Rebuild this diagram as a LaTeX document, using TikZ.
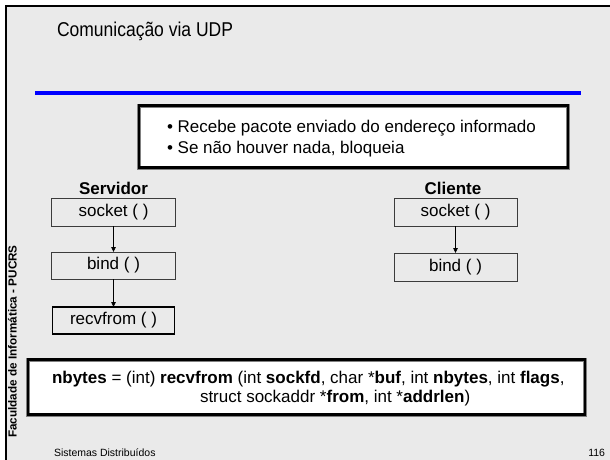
\documentclass[tikz,border=0pt]{standalone}
\usepackage{fontspec}
\setmainfont{Liberation Sans}
\newfontfamily\narrowfont[FakeStretch=0.875]{Liberation Sans}
\usetikzlibrary{arrows.meta}
\definecolor{slidebg}{RGB}{234,234,234}
\definecolor{boxedge}{RGB}{60,60,60}
\definecolor{rulebg}{RGB}{0,0,255}
\definecolor{rimgray}{RGB}{128,128,128}
\tikzset{
  every node/.style={inner sep=0pt, outer sep=0pt},
  body/.style={font=\fontsize{17}{21}\selectfont},
  callbox/.style={draw=boxedge, line width=1pt, minimum width=124pt, minimum height=28pt, body},
  keybox/.style={callbox, draw=black, line width=1.8pt},
  flow/.style={-{Triangle[length=5pt,width=4.5pt]}, line width=0.8pt, draw=black},
  raised/.style={draw=rimgray, line width=0.9pt, double=black, double distance=2.2pt, fill=white},
}
\begin{document}
\begin{tikzpicture}[x=1pt,y=-1pt]
\useasboundingbox (0,0) rectangle (610,459);
% slide background and frame
\fill[white] (0,0) rectangle (610,459);
\fill[slidebg] (6,6) rectangle (612,461);
\draw[line width=2pt] (6,462) -- (6,6) -- (613,6);
% title and rule
\node[anchor=base west, font=\narrowfont\fontsize{20}{24}\selectfont] (title) at (57,36) {Comunicação via UDP};
\draw[rulebg, line width=4pt] (35,93) -- (581,93);
% side label
\node[rotate=90, font=\bfseries\fontsize{11.7}{14}\selectfont] (faculty) at (12.5,341.5) {Faculdade de Informática - PUCRS};
% description box
\node[raised, minimum width=429pt, minimum height=62pt] (info) at (353.5,136.5) {};
\node[body, anchor=base west] (infoA) at (167,132) {• Recebe pacote enviado do endereço informado};
\node[body, anchor=base west] (infoB) at (167,153) {• Se não houver nada, bloqueia};
% server side
\node[body, anchor=base] (srv) at (113.5,194) {\textbf{Servidor}};
\node[callbox] (ssock) at (113.5,212) {socket ( )};
\node[callbox, minimum height=27pt] (sbind) at (113.5,265.5) {bind ( )};
\node[keybox, minimum width=122pt, minimum height=27pt] (srecv) at (113.5,320.5) {recvfrom ( )};
\draw[flow] (ssock) -- (sbind);
\draw[flow] (sbind) -- (srecv);
% client side
\node[body, anchor=base] (cli) at (453,194) {\textbf{Cliente}};
\node[callbox, minimum width=123pt] (csock) at (455.5,212) {socket ( )};
\node[callbox, minimum width=123pt] (cbind) at (455.5,267) {bind ( )};
\draw[flow] (csock) -- (cbind);
% signature box
\node[raised, minimum width=557pt, minimum height=55pt] (sig) at (306.5,387) {};
\node[body, anchor=base west] (sigA) at (52,383) {\textbf{nbytes} = (int) \textbf{recvfrom} (int \textbf{sockfd}, char *\textbf{buf}, int \textbf{nbytes}, int \textbf{flags},};
\node[body, anchor=base west] (sigB) at (200,402) {struct sockaddr *\textbf{from}, int *\textbf{addrlen})};
% footer
\node[anchor=base west, font=\fontsize{10.5}{12}\selectfont] (footer) at (54,456) {Sistemas Distribuídos};
\node[anchor=base east, font=\fontsize{10.5}{12}\selectfont] (page) at (605,456) {116};
\end{tikzpicture}
\end{document}
